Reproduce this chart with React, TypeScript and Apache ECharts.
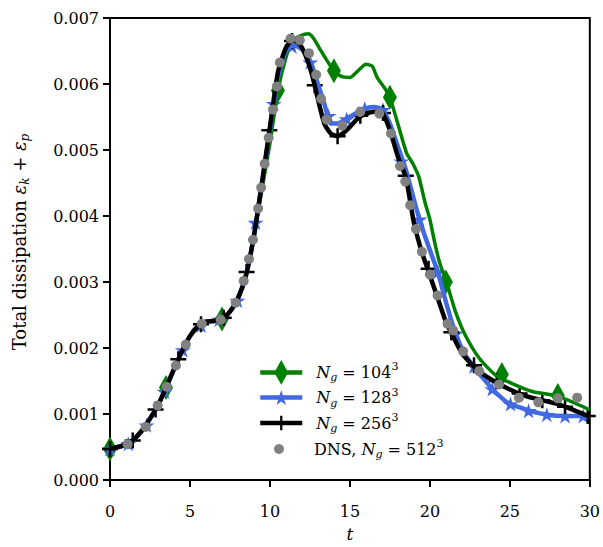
import React, { useEffect, useRef } from "react";
import * as echarts from "echarts";

const SERIF = "'DejaVu Serif', 'Liberation Serif', serif";

// ---------- data ----------
const xTicks = [0, 5, 10, 15, 20, 25, 30];
const yTicks = [0, 0.001, 0.002, 0.003, 0.004, 0.005, 0.006, 0.007];

const seriesNames = ["Ng=104³", "Ng=128³", "Ng=256³", "DNS, Ng=512³"];

// N_g = 104^3 curve
const line104 = [
  [0, 0.00047], [0.5, 0.0005], [1, 0.00054], [1.5, 0.00062], [2, 0.00075], [2.5, 0.00093],
  [3, 0.00113], [3.5, 0.0014], [4, 0.00168], [4.5, 0.00195], [5, 0.00218], [5.5, 0.00233],
  [6, 0.0024], [6.5, 0.00241], [7, 0.00244], [7.5, 0.00255], [8, 0.00275], [8.5, 0.0031],
  [9, 0.0037], [9.5, 0.0044], [10, 0.0051], [10.5, 0.0059], [11, 0.0064], [11.4, 0.00665],
  [11.9, 0.00673], [12.4, 0.00676], [12.7, 0.0067], [13.1, 0.00654], [13.5, 0.00638],
  [14, 0.0062], [14.5, 0.00611], [15, 0.0061], [15.5, 0.0062], [16, 0.0063], [16.4, 0.00627],
  [16.7, 0.0061], [17.25, 0.00591], [17.6, 0.00572], [18.1, 0.00531], [18.55, 0.00495],
  [18.9, 0.00481], [19.3, 0.0046], [19.7, 0.0042], [20, 0.00395], [20.3, 0.0036],
  [20.6, 0.0033], [21.1, 0.00295], [21.6, 0.00255], [22.2, 0.0022], [23.1, 0.00184],
  [24.1, 0.00159], [25.15, 0.00146], [26.4, 0.00134], [28, 0.00127], [29.3, 0.00114],
  [30, 0.00106],
];
const marks104 = [
  [0, 0.00047], [3.5, 0.0014], [7, 0.00244], [10.5, 0.0059], [14, 0.0062],
  [17.5, 0.0058], [21, 0.003], [24.5, 0.0016], [28, 0.00128],
];

// N_g = 128^3 curve
const line128 = [
  [0, 0.00047], [0.5, 0.0005], [1, 0.00054], [1.5, 0.00062], [2, 0.00075], [2.5, 0.00093],
  [3, 0.00113], [3.5, 0.0014], [4, 0.00168], [4.5, 0.00195], [5, 0.00218], [5.5, 0.00233],
  [6, 0.0024], [6.5, 0.00241], [7, 0.00244], [7.5, 0.00255], [8, 0.00275], [8.5, 0.0031],
  [9, 0.0037], [9.5, 0.0045], [10, 0.0053], [10.5, 0.0061], [11, 0.0065], [11.4, 0.00658],
  [11.8, 0.00656], [12.2, 0.00647], [12.6, 0.0063], [13, 0.006], [13.4, 0.0057],
  [13.8, 0.0054], [14.2, 0.0054], [14.8, 0.00547], [15.4, 0.00556], [16, 0.00563],
  [16.5, 0.00565], [17, 0.00562], [17.5, 0.0054], [18, 0.00505], [18.5, 0.0047],
  [19, 0.00425], [19.35, 0.00395], [19.8, 0.00362], [20.2, 0.00335], [20.5, 0.00315],
  [21, 0.0027], [21.6, 0.00222], [22.2, 0.0019], [22.7, 0.00173], [23.2, 0.00158],
  [23.9, 0.00138], [24.5, 0.00124], [25, 0.00115], [25.5, 0.00111], [26.2, 0.00105],
  [27.3, 0.00099], [28.5, 0.00097], [29.6, 0.00097], [30, 0.00096],
];
const marks128 = [
  [0, 0.00047], [1.14, 0.00055], [2.28, 0.00083], [3.41, 0.00134], [4.55, 0.00197],
  [5.69, 0.00234], [6.83, 0.00243], [7.97, 0.00272], [9.1, 0.0039], [10.24, 0.0057],
  [11.38, 0.00657], [12.52, 0.00633], [13.66, 0.00552], [14.8, 0.00547], [15.93, 0.00563],
  [17.07, 0.00561], [18.21, 0.00483], [19.35, 0.00395], [20.49, 0.00315], [21.62, 0.00222],
  [22.76, 0.00172], [23.9, 0.00138], [25.04, 0.00115], [26.17, 0.00105], [27.31, 0.00099],
  [28.45, 0.00097], [29.59, 0.00097],
];

// N_g = 256^3 curve
const line256 = [
  [0, 0.00047], [0.5, 0.0005], [1, 0.00054], [1.5, 0.00062], [2, 0.00075], [2.5, 0.00093],
  [3, 0.00113], [3.5, 0.0014], [4, 0.00168], [4.5, 0.00195], [5, 0.00218], [5.5, 0.00233],
  [6, 0.0024], [6.5, 0.00241], [7, 0.00244], [7.5, 0.00255], [8, 0.00275], [8.5, 0.0031],
  [9, 0.0037], [9.5, 0.0045], [10, 0.00535], [10.5, 0.00618], [11, 0.00655], [11.4, 0.00666],
  [11.8, 0.00662], [12.2, 0.00645], [12.6, 0.00617], [13, 0.00577], [13.4, 0.0054],
  [13.8, 0.00525], [14.2, 0.00521], [14.6, 0.00526], [15, 0.00535], [15.5, 0.00548],
  [16, 0.00555], [16.5, 0.00558], [17, 0.00557], [17.5, 0.0053], [18, 0.0049],
  [18.5, 0.00458], [19, 0.0039], [19.5, 0.00345], [20, 0.0031], [20.5, 0.00275],
  [21, 0.0024], [21.5, 0.00215], [22, 0.00192], [22.5, 0.00178], [23, 0.00166],
  [24, 0.0015], [25, 0.00137], [26, 0.00127], [27, 0.00121], [28, 0.00115], [29, 0.00106],
  [30, 0.00096],
];
const marks256 = [
  [0, 0.00047], [1.42, 0.0006], [2.85, 0.00107], [4.27, 0.00183], [5.69, 0.00236],
  [7.11, 0.00246], [8.54, 0.00315], [9.96, 0.0053], [11.38, 0.00665], [12.8, 0.00598],
  [14.23, 0.00521], [15.65, 0.00552], [17.07, 0.00556], [18.49, 0.00461], [19.92, 0.0032],
  [21.34, 0.00224], [22.76, 0.00174], [24.18, 0.0015], [25.61, 0.00131], [27.03, 0.00121],
  [28.45, 0.00111], [29.87, 0.00097],
];

// DNS, N_g = 512^3 (points only)
const dns = [
  [1.1, 0.000543], [2.23, 0.000804], [2.98, 0.001127], [3.54, 0.001413], [4.12, 0.001735],
  [4.74, 0.002052], [5.74, 0.002368], [6.92, 0.002429], [7.86, 0.002685], [8.36, 0.003017],
  [8.69, 0.003349], [8.94, 0.00364], [9.26, 0.004114], [9.45, 0.004431], [9.67, 0.004793],
  [9.92, 0.005185], [10.19, 0.005612], [10.43, 0.005964], [10.62, 0.006326], [11.29, 0.006688],
  [11.87, 0.006663], [12.44, 0.006467], [12.89, 0.00614], [13.2, 0.005778], [13.53, 0.005461],
  [14.53, 0.00537], [15.64, 0.005577], [16.84, 0.005552], [17.57, 0.00525], [18.13, 0.004757],
  [18.46, 0.004521], [18.77, 0.004164], [19.13, 0.003802], [19.5, 0.003459], [20.0, 0.003112],
  [20.48, 0.002795], [21.1, 0.002368], [21.46, 0.002267], [22.08, 0.00195], [23.08, 0.001649],
  [24.32, 0.001448], [25.57, 0.001248], [26.78, 0.001177], [28.0, 0.001237], [29.21, 0.001248],
];

// ---------- styling ----------
const GREEN = "#008000";
const BLUE = "#4169e1";
const BLACK = "#000000";
const GRAY = "#808080";

const DIAMOND = "path://M7,0L14,12.5L7,25L0,12.5Z";
// same diamond inside a square box, so the legend (which draws a square icon) keeps it thin
const DIAMOND_LEGEND = "path://M0,0M25,25M12.5,0L19.5,12.5L12.5,25L5.5,12.5Z";
const STAR =
  "path://M10,0L12.25,6.91L19.51,6.91L13.63,11.18L15.88,18.09L10,13.82L4.12,18.09L6.37,11.18L0.49,6.91L7.75,6.91Z";
const PLUS = "path://M6.75,0H9.25V6.75H16V9.25H9.25V16H6.75V9.25H0V6.75H6.75Z";

const rich = {
  pi: { fontFamily: SERIF, fontSize: 16, fontStyle: "italic", color: "#000", lineHeight: 22, padding: [0, 0, 0, 9] },
  r: { fontFamily: SERIF, fontSize: 16, color: "#000", lineHeight: 22 },
  rp: { fontFamily: SERIF, fontSize: 16, color: "#000", lineHeight: 22, padding: [0, 0, 0, 9] },
  i: { fontFamily: SERIF, fontSize: 16, fontStyle: "italic", color: "#000", lineHeight: 22 },
  sub: { fontFamily: SERIF, fontSize: 11, fontStyle: "italic", color: "#000", lineHeight: 22, verticalAlign: "bottom" },
  sup: { fontFamily: SERIF, fontSize: 11, color: "#000", lineHeight: 22, verticalAlign: "top" },
};

const legendText: Record<string, string> = {
  "Ng=104³": "{pi|N}{sub|g}{r| = 104}{sup|3}",
  "Ng=128³": "{pi|N}{sub|g}{r| = 128}{sup|3}",
  "Ng=256³": "{pi|N}{sub|g}{r| = 256}{sup|3}",
  "DNS, Ng=512³": "{rp|DNS, }{i|N}{sub|g}{r| = 512}{sup|3}",
};

const yRich = {
  r: { fontFamily: SERIF, fontSize: 18, color: "#000", lineHeight: 24 },
  i: { fontFamily: SERIF, fontSize: 18, fontStyle: "italic", color: "#000", lineHeight: 24 },
  sub: { fontFamily: SERIF, fontSize: 12, fontStyle: "italic", color: "#000", lineHeight: 24, verticalAlign: "bottom" },
};

export default function App() {
  const ref = useRef<HTMLDivElement>(null);
  useEffect(() => {
    document.body.style.margin = "0";
    const chart = echarts.init(ref.current as HTMLDivElement, null, { renderer: "svg" });
    const lineSeries = (name: string, data: number[][], color: string, width: number, symbol: string) => ({
      name,
      type: "line",
      data,
      smooth: 0.2,
      showSymbol: false,
      symbol,
      lineStyle: { color, width },
      itemStyle: { color },
      emphasis: { disabled: true },
    });
    const markSeries = (name: string, data: number[][], color: string, symbol: string, size: any) => ({
      name,
      type: "scatter",
      data,
      symbol,
      symbolSize: size,
      itemStyle: { color, opacity: 1 },
      emphasis: { disabled: true },
    });
    const legendRow = (name: string, top: number, itemHeight: number, lineWidth: number) => ({
      data: [name],
      orient: "vertical",
      left: 258,
      top,
      padding: 0,
      itemWidth: 42,
      itemHeight,
      selectedMode: false,
      lineStyle: { width: lineWidth },
      formatter: (n: string) => legendText[n],
      textStyle: { rich },
    });
    chart.setOption({
      animation: false,
      backgroundColor: "#ffffff",
      grid: {
        left: 110,
        top: 18,
        width: 481,
        height: 464,
        show: true,
        borderColor: "#000",
        borderWidth: 2,
        backgroundColor: "transparent",
      },
      xAxis: {
        type: "value",
        min: xTicks[0],
        max: xTicks[xTicks.length - 1],
        interval: xTicks[1] - xTicks[0],
        axisLine: { show: true, lineStyle: { color: "#000", width: 2 } },
        axisTick: { show: true, length: 7, lineStyle: { color: "#000", width: 2 } },
        axisLabel: { color: "#000", fontFamily: SERIF, fontSize: 16, margin: 23 },
        splitLine: { show: false },
        name: "t",
        nameLocation: "middle",
        nameGap: 45,
        nameTextStyle: { color: "#000", fontFamily: SERIF, fontSize: 17, fontStyle: "italic" },
      },
      yAxis: {
        type: "value",
        min: yTicks[0],
        max: yTicks[yTicks.length - 1],
        interval: yTicks[1] - yTicks[0],
        axisLine: { show: true, lineStyle: { color: "#000", width: 2 } },
        axisTick: { show: true, length: 7, lineStyle: { color: "#000", width: 2 } },
        axisLabel: {
          color: "#000",
          fontFamily: SERIF,
          fontSize: 16,
          margin: 11,
          formatter: (v: number) => v.toFixed(3),
        },
        splitLine: { show: false },
      },
      legend: [
        legendRow(seriesNames[0], 360, 31, 4.5),
        legendRow(seriesNames[1], 386.5, 19, 4.5),
        legendRow(seriesNames[2], 412, 18, 4.5),
        legendRow(seriesNames[3], 438, 12.5, 0),
      ],
      graphic: [
        {
          type: "text",
          x: 19,
          y: 242,
          rotation: Math.PI / 2,
          style: {
            text: "{r|Total dissipation }{i|ε}{sub|k}{r| + }{i|ε}{sub|p}",
            rich: yRich,
            align: "center",
            verticalAlign: "middle",
          },
        },
      ],
      series: [
        lineSeries(seriesNames[0], line104, GREEN, 3.5, DIAMOND_LEGEND),
        markSeries("m104", marks104, GREEN, DIAMOND, [14, 25]),
        lineSeries(seriesNames[1], line128, BLUE, 4.5, STAR),
        markSeries("m128", marks128, BLUE, STAR, [16, 15]),
        lineSeries(seriesNames[2], line256, BLACK, 4.5, PLUS),
        markSeries("m256", marks256, BLACK, PLUS, 16),
        {
          name: seriesNames[3],
          type: "line",
          data: dns,
          symbol: "circle",
          symbolSize: 10,
          showSymbol: true,
          lineStyle: { width: 0, opacity: 0 },
          itemStyle: { color: GRAY, opacity: 1 },
          emphasis: { disabled: true },
        },
      ],
    });
    return () => chart.dispose();
  }, []);
  return <div ref={ref} style={{ width: 603, height: 547 }} />;
}
